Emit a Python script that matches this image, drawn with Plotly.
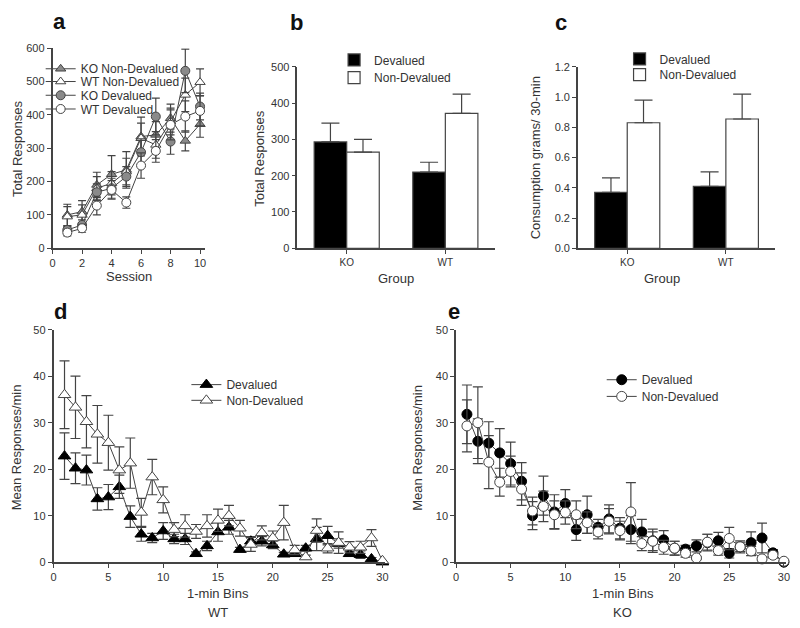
import plotly.graph_objects as go

# ---------------- data ----------------
# panel a: acquisition
sessions = [1, 2, 3, 4, 5, 6, 7, 8, 9, 10]
ko_nondev_a = [100, 110, 190, 222, 235, 335, 340, 390, 322, 372]
ko_nondev_a_err = [32, 33, 38, 56, 55, 58, 40, 42, 30, 39]
wt_nondev_a = [95, 100, 180, 195, 230, 330, 310, 380, 460, 498]
wt_nondev_a_err = [30, 30, 35, 35, 40, 45, 40, 40, 50, 40]
ko_dev_a = [55, 70, 168, 180, 215, 288, 395, 320, 532, 425]
ko_dev_a_err = [12, 15, 25, 30, 30, 40, 55, 38, 65, 40]
wt_dev_a = [47, 60, 128, 175, 137, 248, 292, 370, 395, 412]
wt_dev_a_err = [10, 12, 28, 28, 17, 38, 34, 45, 47, 45]

# panel b: total responses at test
groups = ["KO", "WT"]
resp_dev = [293, 210]
resp_dev_err = [52, 27]
resp_nondev = [265, 372]
resp_nondev_err = [35, 53]

# panel c: consumption
cons_dev = [0.37, 0.41]
cons_dev_err = [0.095, 0.095]
cons_nondev = [0.83, 0.855]
cons_nondev_err = [0.15, 0.165]

# panels d / e: 1-min bins
bins = list(range(1, 31))
wt_dev = [22.8, 20.2, 19.8, 13.6, 14.0, 16.2, 9.8, 6.0, 5.2, 6.7,
          5.0, 5.0, 1.8, 3.5, 6.5, 7.5, 2.7, 4.5, 4.5, 3.7,
          1.7, 1.8, 3.0, 5.0, 5.7, 4.0, 1.8, 1.6, 0.7, 0.0]
wt_dev_err = [5.0, 3.3, 3.2, 2.4, 2.7, 2.5, 2.3, 1.5, 1.0, 1.8,
              1.0, 1.2, 0.4, 1.0, 2.0, 1.5, 0.5, 1.0, 1.0, 0.8,
              0.4, 0.4, 0.6, 2.5, 2.0, 1.0, 0.5, 0.8, 0.3, 0.0]
wt_nondev = [36.0, 33.3, 30.2, 27.5, 25.7, 19.8, 21.3, 10.7, 18.3, 13.4,
             7.0, 7.8, 6.6, 7.8, 9.0, 10.0, 7.3, 3.8, 6.3, 5.2,
             8.5, 2.6, 1.1, 6.8, 3.0, 4.2, 3.2, 3.2, 5.2, 0.3]
wt_nondev_err = [7.3, 6.7, 5.6, 6.2, 5.9, 5.0, 5.4, 3.0, 3.8, 2.8,
                 1.5, 2.4, 1.5, 2.4, 2.4, 2.2, 1.7, 1.5, 1.5, 1.5,
                 3.7, 1.0, 0.4, 2.5, 1.0, 2.3, 1.2, 1.3, 1.8, 0.0]
ko_dev = [31.8, 26.0, 25.6, 23.5, 21.2, 17.4, 10.0, 14.3, 10.8, 12.6,
          7.0, 10.2, 7.5, 9.3, 7.3, 7.0, 6.5, 4.6, 4.8, 3.0,
          2.8, 3.5, 4.2, 4.6, 1.9, 3.3, 4.2, 5.2, 2.0, 0.0]
ko_dev_err = [6.3, 4.8, 4.6, 5.2, 4.6, 4.0, 3.0, 4.2, 3.7, 3.0,
              2.3, 4.0, 1.7, 3.0, 2.3, 3.0, 2.7, 2.5, 2.0, 1.5,
              0.8, 1.3, 1.8, 1.8, 1.0, 1.3, 2.3, 3.2, 0.7, 0.0]
ko_nondev = [29.3, 30.0, 21.5, 17.2, 19.5, 15.7, 11.0, 12.0, 10.2, 10.7,
             10.2, 8.5, 6.5, 8.8, 6.8, 10.8, 4.0, 4.5, 3.2, 3.0,
             1.9, 0.9, 4.3, 2.5, 5.1, 3.3, 2.4, 0.7, 1.5, 0.2]
ko_nondev_err = [5.6, 7.7, 5.7, 3.0, 3.3, 3.5, 3.0, 3.3, 3.0, 2.5,
                 3.0, 2.3, 1.5, 2.7, 2.0, 6.3, 1.5, 2.0, 1.5, 1.5,
                 0.8, 0.3, 1.7, 1.0, 2.4, 1.0, 1.0, 0.3, 0.6, 0.0]

# ---------------- style ----------------
FONT = "Liberation Sans, Arial, sans-serif"
TXT = "#333333"
AX = "#444444"
W, H = 800, 628


def px_x(p):
    return p / W


def px_y(p):
    return 1 - p / H


def err(vals, width=5):
    return dict(type="data", array=vals, visible=True, color=AX,
                thickness=1.2, width=width)


def up_err(vals):
    # GraphPad style bars: only the upper half of the error bar
    return dict(type="data", array=vals, arrayminus=[0] * len(vals), symmetric=False,
                color=AX, thickness=1.2, width=9)


fig = go.Figure()

# ---- panel a ----
line_a = dict(color=AX, width=1)
series_a = [
    ("KO Non-Devalued", ko_nondev_a, ko_nondev_a_err, "triangle-up", "#8a8a8a", "legend"),
    ("WT Non-Devalued", wt_nondev_a, wt_nondev_a_err, "triangle-up", "white", "legend6"),
    ("KO Devalued", ko_dev_a, ko_dev_a_err, "circle", "#8a8a8a", "legend7"),
    ("WT Devalued", wt_dev_a, wt_dev_a_err, "circle", "white", "legend8"),
]
for name, ys, es, sym, fill, lg in series_a:
    fig.add_trace(go.Scatter(x=sessions, y=ys, error_y=err(es, width=4),
                             mode="lines+markers", name=name, line=line_a,
                             marker=dict(symbol=sym, size=9, color=fill,
                                         line=dict(color=AX, width=1)),
                             xaxis="x", yaxis="y", legend=lg, cliponaxis=False))

# ---- panel b ----
bar_line = dict(color=AX, width=1.2)
fig.add_trace(go.Bar(x=groups, y=resp_dev, name="Devalued",
                     marker=dict(color="black", line=bar_line), error_y=up_err(resp_dev_err),
                     xaxis="x2", yaxis="y2", legend="legend2"))
fig.add_trace(go.Bar(x=groups, y=resp_nondev, name="Non-Devalued",
                     marker=dict(color="white", line=bar_line), error_y=up_err(resp_nondev_err),
                     xaxis="x2", yaxis="y2", legend="legend9"))

# ---- panel c ----
fig.add_trace(go.Bar(x=groups, y=cons_dev, name="Devalued",
                     marker=dict(color="black", line=bar_line), error_y=up_err(cons_dev_err),
                     xaxis="x3", yaxis="y3", legend="legend3"))
fig.add_trace(go.Bar(x=groups, y=cons_nondev, name="Non-Devalued",
                     marker=dict(color="white", line=bar_line), error_y=up_err(cons_nondev_err),
                     xaxis="x3", yaxis="y3", legend="legend10"))

# ---- panel d (WT) ----
fig.add_trace(go.Scatter(x=bins, y=wt_dev, error_y=err(wt_dev_err),
                         mode="lines+markers", name="Devalued", line=dict(color=AX, width=1),
                         marker=dict(symbol="triangle-up", size=11, color="black",
                                     line=dict(color="black", width=1)),
                         xaxis="x4", yaxis="y4", legend="legend4", cliponaxis=False))
fig.add_trace(go.Scatter(x=bins, y=wt_nondev, error_y=err(wt_nondev_err),
                         mode="lines+markers", name="Non-Devalued", line=dict(color=AX, width=1),
                         marker=dict(symbol="triangle-up", size=11, color="white",
                                     line=dict(color=AX, width=1)),
                         xaxis="x4", yaxis="y4", legend="legend11", cliponaxis=False))

# ---- panel e (KO) ----
fig.add_trace(go.Scatter(x=bins, y=ko_dev, error_y=err(ko_dev_err),
                         mode="lines+markers", name="Devalued", line=dict(color=AX, width=1),
                         marker=dict(symbol="circle", size=10, color="black",
                                     line=dict(color="black", width=1)),
                         xaxis="x5", yaxis="y5", legend="legend5", cliponaxis=False))
fig.add_trace(go.Scatter(x=bins, y=ko_nondev, error_y=err(ko_nondev_err),
                         mode="lines+markers", name="Non-Devalued", line=dict(color=AX, width=1),
                         marker=dict(symbol="circle", size=10, color="white",
                                     line=dict(color=AX, width=1)),
                         xaxis="x5", yaxis="y5", legend="legend12", cliponaxis=False))

# ---------------- axes ----------------
base = dict(showline=True, linecolor=AX, linewidth=1.5, ticks="outside", ticklen=4,
            tickwidth=1.2, tickcolor=AX, showgrid=False, zeroline=False,
            tickfont=dict(family=FONT, size=11, color=TXT), fixedrange=True)

axes = dict(
    xaxis=dict(base, domain=[px_x(50), px_x(204)], range=[0, 10.35], dtick=2, anchor="y"),
    yaxis=dict(base, domain=[px_y(247), px_y(43)], range=[0, 600], dtick=100, anchor="x"),
    xaxis2=dict(base, domain=[px_x(297), px_x(496)], range=[-0.5, 1.5], anchor="y2",
                tickfont=dict(family=FONT, size=10, color=TXT)),
    yaxis2=dict(base, domain=[px_y(247), px_y(62)], range=[0, 500], dtick=100, anchor="x2"),
    xaxis3=dict(base, domain=[px_x(580), px_x(779)], range=[-0.5, 1.5], anchor="y3",
                tickfont=dict(family=FONT, size=10, color=TXT)),
    yaxis3=dict(base, domain=[px_y(247), px_y(62)], range=[0, 1.2], dtick=0.2,
                tickformat=".1f", anchor="x3"),
    xaxis4=dict(base, domain=[px_x(51), px_x(385)], range=[0, 30.2], dtick=5, anchor="y4"),
    yaxis4=dict(base, domain=[px_y(567), px_y(330)], range=[0, 50], dtick=10, anchor="x4"),
    xaxis5=dict(base, domain=[px_x(457), px_x(790)], range=[0, 30.2], dtick=5, anchor="y5"),
    yaxis5=dict(base, domain=[px_y(567), px_y(330)], range=[0, 50], dtick=10, anchor="x5"),
)

# one legend per entry so each row sits where the reference has it
leg = dict(font=dict(family=FONT, size=12, color=TXT), bgcolor="rgba(0,0,0,0)",
           xanchor="left", yanchor="middle", itemwidth=30)
legend_pos = {
    "legend": (38, 64), "legend6": (38, 77), "legend7": (38, 91), "legend8": (38, 105),
    "legend2": (334, 55), "legend9": (334, 73),
    "legend3": (622, 54), "legend10": (622, 70),
    "legend4": (185, 386), "legend11": (185, 402),
    "legend5": (604, 381), "legend12": (604, 398),
}
legends = {k: dict(leg, x=px_x(x), y=px_y(y)) for k, (x, y) in legend_pos.items()}

# annotations: panel letters and axis titles
notes = []
for letter, x, y in [("a", 57, 16), ("b", 296, 17), ("c", 563, 17), ("d", 58, 311), ("e", 455, 311)]:
    notes.append(dict(text="<b>%s</b>" % letter, x=px_x(x), y=px_y(y), xref="paper", yref="paper",
                      showarrow=False, font=dict(family=FONT, size=22, color="#111111"),
                      xanchor="center", yanchor="middle"))
for text, x, y, ang in [("Total Responses", 14, 145, -90), ("Session", 127, 276, 0),
                        ("Total Responses", 258, 155, -90), ("Group", 396, 278, 0),
                        ("Consumption grams/ 30-min", 537, 155, -90), ("Group", 665, 278, 0),
                        ("Mean Responses/min", 14, 450, -90), ("1-min Bins", 217, 599, 0),
                        ("WT", 217, 618, 0),
                        ("Mean Responses/min", 418, 450, -90), ("1-min Bins", 625, 599, 0),
                        ("KO", 625, 618, 0)]:
    notes.append(dict(text=text, x=px_x(x), y=px_y(y), xref="paper", yref="paper",
                      showarrow=False, textangle=ang,
                      font=dict(family=FONT, size=13, color=TXT),
                      xanchor="center", yanchor="middle"))

fig.update_layout(
    width=W, height=H, margin=dict(l=0, r=0, t=0, b=0),
    paper_bgcolor="white", plot_bgcolor="white",
    showlegend=True,
    barmode="group", bargap=0.34, bargroupgap=0,
    font=dict(family=FONT, color=TXT),
    annotations=notes,
    **legends,
    **axes,
)

# drop page margins/scrollbars so the 800x628 figure fills the window exactly
page_css = ("var s=document.createElement('style');"
            "s.textContent='html,body{margin:0;padding:0;overflow:hidden;width:800px;height:628px}"
            "body>div{line-height:0;font-size:0}';"
            "document.head.appendChild(s);")
fig.write_html("out.html", config={"displayModeBar": False}, post_script=page_css)
